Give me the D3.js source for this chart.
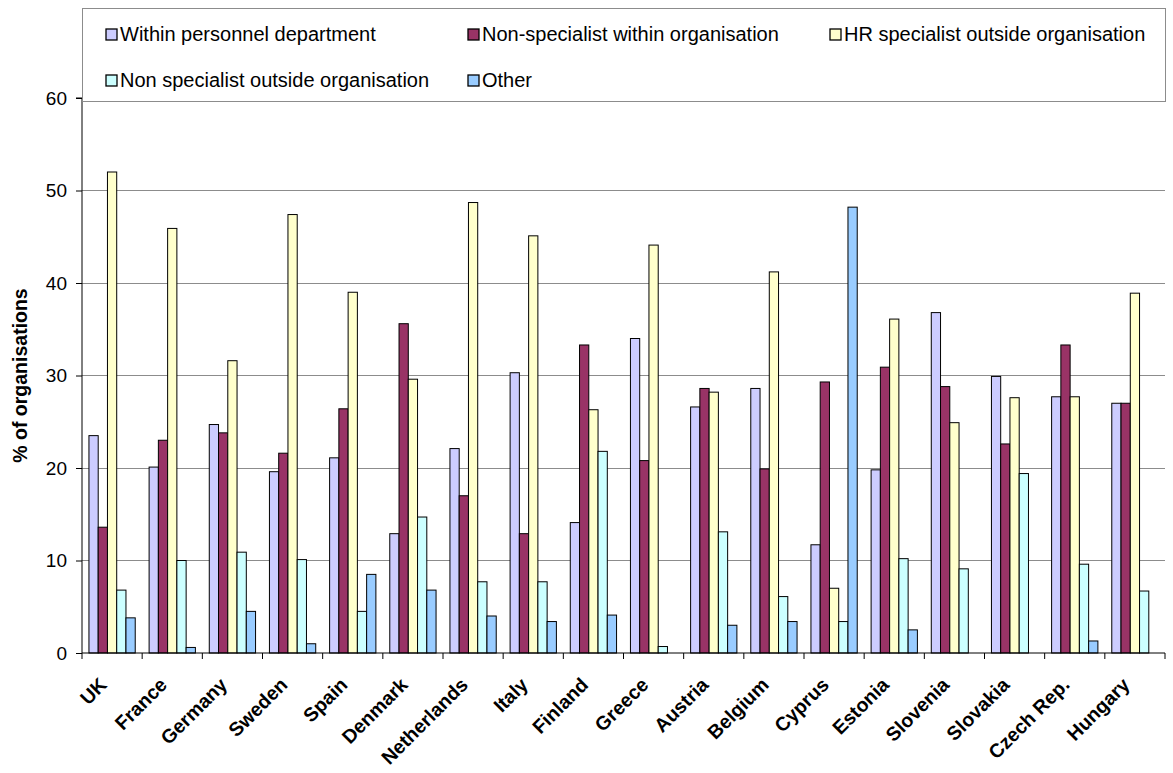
<!DOCTYPE html>
<html><head><meta charset="utf-8">
<script src="https://cdn.jsdelivr.net/npm/d3@7"></script>
<style>body{margin:0;background:#fff;}svg{display:block;font-family:"Liberation Sans",Arial,sans-serif;}</style>
</head><body>
<svg id="c" width="1173" height="773"></svg>
<script>
const categories = ["UK","France","Germany","Sweden","Spain","Denmark","Netherlands","Italy","Finland","Greece","Austria","Belgium","Cyprus","Estonia","Slovenia","Slovakia","Czech Rep.","Hungary"];
const seriesNames = ["Within personnel department","Non-specialist within organisation","HR specialist outside organisation","Non specialist outside organisation","Other"];
const withinPersonnel = [23.5,20.1,24.7,19.6,21.1,12.9,22.1,30.3,14.1,34.0,26.6,28.6,11.7,19.8,36.8,29.9,27.7,27.0];
const nonSpecWithin   = [13.6,23.0,23.8,21.6,26.4,35.6,17.0,12.9,33.3,20.8,28.6,19.9,29.3,30.9,28.8,22.6,33.3,27.0];
const hrSpecOutside   = [52.0,45.9,31.6,47.4,39.0,29.6,48.7,45.1,26.3,44.1,28.2,41.2,7.0,36.1,24.9,27.6,27.7,38.9];
const nonSpecOutside  = [6.8,10.0,10.9,10.1,4.5,14.7,7.7,7.7,21.8,0.7,13.1,6.1,3.4,10.2,9.1,19.4,9.6,6.7];
const other           = [3.8,0.6,4.5,1.0,8.5,6.8,4.0,3.4,4.1,0,3.0,3.4,48.2,2.5,0,0,1.3,0];
const yTicks = [0,10,20,30,40,50,60];
const colors = ["#CCCCFF","#993366","#FFFFCC","#CCFFFF","#99CCFF"];
const seriesValues = [withinPersonnel,nonSpecWithin,hrSpecOutside,nonSpecOutside,other];

const svg = d3.select("#c");
const L=82,R=1165,T=98,B=653;
const y = d3.scaleLinear().domain([0,60]).range([B,T]);
const x0 = d3.scaleBand().domain(categories).range([L,R]).padding(0);
const x1 = d3.scaleBand().domain(d3.range(5)).range([0,x0.bandwidth()]).paddingInner(0).paddingOuter(0.75);

// gridlines
svg.append("g").selectAll("line").data(yTicks.filter(d=>d>0)).join("line")
  .attr("x1",L).attr("x2",R).attr("y1",d=>y(d)).attr("y2",d=>y(d))
  .attr("stroke","#8c8c8c").attr("stroke-width",1).attr("shape-rendering","crispEdges");

// bars
const g = svg.append("g");
categories.forEach((c,i)=>{
  seriesValues.forEach((vals,s)=>{
    const v = vals[i];
    if(v<=0) return;
    g.append("rect")
      .attr("x",x0(c)+x1(s)).attr("y",y(v))
      .attr("width",x1.bandwidth()).attr("height",B-y(v))
      .attr("fill",colors[s]).attr("stroke","#000").attr("stroke-width",1);
  });
});

// y axis
const yAxis = d3.axisLeft(y).tickValues(yTicks).tickSize(6).tickPadding(9).tickFormat(d3.format("d"));
const ya = svg.append("g").attr("transform",`translate(${L},0)`).call(yAxis);
ya.select(".domain").attr("stroke","#000").attr("d",`M-6,${T}H0V${B}`);
ya.selectAll(".tick line").attr("stroke","#000");
ya.selectAll(".tick text").attr("font-size",19).attr("font-family","Liberation Sans, Arial, sans-serif").attr("fill","#000");

// x axis
svg.append("line").attr("x1",L).attr("x2",R).attr("y1",B).attr("y2",B).attr("stroke","#000");
const boundaries = categories.map(c=>x0(c)).concat([R]);
svg.append("g").selectAll("line").data(boundaries).join("line")
  .attr("x1",d=>d).attr("x2",d=>d).attr("y1",B).attr("y2",B+6).attr("stroke","#000");
svg.append("g").selectAll("text").data(categories).join("text")
  .attr("transform",d=>`translate(${x0(d)+x0.bandwidth()/2-4},${B+33}) rotate(-45)`)
  .attr("text-anchor","end").attr("font-weight","bold").attr("font-size",19.5).attr("fill","#000")
  .text(d=>d);

// y title
svg.append("text").attr("transform",`translate(27,${(T+B)/2}) rotate(-90)`)
  .attr("text-anchor","middle").attr("font-weight","bold").attr("font-size",19.5).text("% of organisations");

// legend
const lg = svg.append("g");
lg.append("rect").attr("x",L).attr("y",8).attr("width",R-L).attr("height",93)
  .attr("fill","#fff").attr("stroke","#8c8c8c").attr("stroke-width",1).attr("shape-rendering","crispEdges");
const legPos = [[106,35],[468,35],[830,35],[106,81],[468,81]];
seriesNames.forEach((n,i)=>{
  const [lx,ly]=legPos[i];
  lg.append("rect").attr("x",lx).attr("y",ly-6).attr("width",11).attr("height",11)
    .attr("fill",colors[i]).attr("stroke","#000").attr("stroke-width",1.3);
  lg.append("text").attr("x",lx+14).attr("y",ly+6).attr("font-size",20).attr("fill","#000").text(n);
});
</script>
</body></html>
